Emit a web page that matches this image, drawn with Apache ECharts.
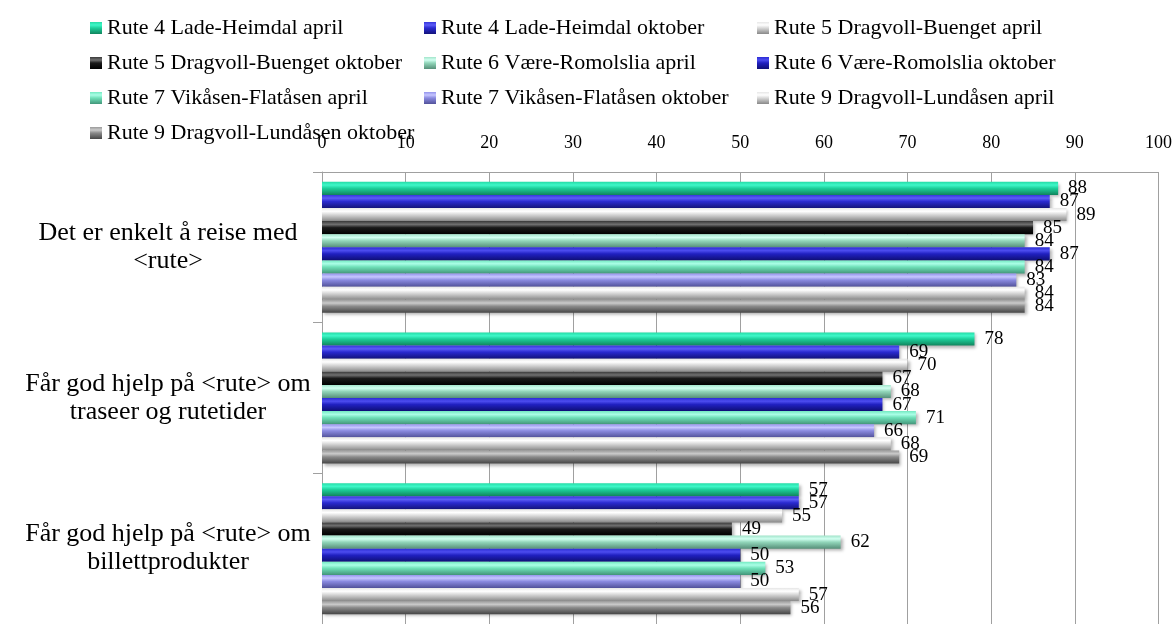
<!DOCTYPE html>
<html>
<head>
<meta charset="utf-8">
<script src="https://cdn.jsdelivr.net/npm/echarts@6/dist/echarts.min.js"></script>
<style>
  html, body { margin: 0; padding: 0; background: #ffffff; }
  #chart { width: 1175px; height: 624px; }
</style>
</head>
<body>
<div id="chart"></div>
<script>
// Survey statements (one group of bars per statement)
const categories = [
  'Det er enkelt å reise med\n<rute>',
  'Får god hjelp på <rute> om\ntraseer og rutetider',
  'Får god hjelp på <rute> om\nbillettprodukter'
];

const seriesNames = [
  'Rute 4 Lade-Heimdal april',
  'Rute 4 Lade-Heimdal oktober',
  'Rute 5 Dragvoll-Buenget april',
  'Rute 5 Dragvoll-Buenget oktober',
  'Rute 6 Være-Romolslia april',
  'Rute 6 Være-Romolslia oktober',
  'Rute 7 Vikåsen-Flatåsen april',
  'Rute 7 Vikåsen-Flatåsen oktober',
  'Rute 9 Dragvoll-Lundåsen april',
  'Rute 9 Dragvoll-Lundåsen oktober'
];

// Percent agreeing, per route and survey round
const rute4April   = [88, 78, 57];
const rute4Oktober = [87, 69, 57];
const rute5April   = [89, 70, 55];
const rute5Oktober = [85, 67, 49];
const rute6April   = [84, 68, 62];
const rute6Oktober = [87, 67, 50];
const rute7April   = [84, 71, 53];
const rute7Oktober = [83, 66, 50];
const rute9April   = [84, 68, 57];
const rute9Oktober = [84, 69, 56];

const seriesValues = [
  rute4April, rute4Oktober, rute5April, rute5Oktober, rute6April,
  rute6Oktober, rute7April, rute7Oktober, rute9April, rute9Oktober
];

const xTicks = [0, 10, 20, 30, 40, 50, 60, 70, 80, 90, 100];

// Cylinder-like shading for each bar: edge, highlight, body, shadow side
const shades = [
  ['#25dca6', '#3ff7c8', '#1ccf9a', '#11845d'],
  ['#3535dc', '#5c5cf6', '#2a2ad0', '#13137a'],
  ['#e6e6e6', '#ffffff', '#d8d8d8', '#888888'],
  ['#3a3a3a', '#707070', '#1a1a1a', '#000000'],
  ['#a2e4ca', '#d2fff1', '#92d6ba', '#568f79'],
  ['#2c2cd4', '#4c4cef', '#2020c0', '#0f0f75'],
  ['#74eac2', '#aafee6', '#6ee0b8', '#43967a'],
  ['#9494ec', '#c6c6ff', '#8a8ae0', '#52529a'],
  ['#e6e6e6', '#ffffff', '#d8d8d8', '#888888'],
  ['#9a9a9a', '#cacaca', '#8a8a8a', '#464646']
];

function shading(c) {
  return new echarts.graphic.LinearGradient(0, 0, 0, 1, [
    { offset: 0, color: c[0] },
    { offset: 0.25, color: c[1] },
    { offset: 0.5, color: c[2] },
    { offset: 1, color: c[3] }
  ]);
}

const FONT = "'Liberation Serif', 'Times New Roman', serif";

const series = seriesNames.map((name, i) => ({
  name: name,
  type: 'bar',
  data: seriesValues[i],
  barGap: '0%',
  barCategoryGap: '13%',
  itemStyle: {
    color: shading(shades[i]),
    shadowColor: 'rgba(0,0,0,0.3)',
    shadowBlur: 3,
    shadowOffsetX: 2,
    shadowOffsetY: 2
  },
  label: {
    show: true,
    position: 'right',
    distance: 10,
    color: '#000',
    fontFamily: FONT,
    fontSize: 19
  }
}));

// Legend laid out as three fixed columns
const legendColumns = [
  { left: 90,  names: [0, 3, 6, 9] },
  { left: 424, names: [1, 4, 7] },
  { left: 757, names: [2, 5, 8] }
];

const legends = legendColumns.map(col => ({
  orient: 'vertical',
  left: col.left,
  top: 16,
  itemWidth: 12,
  itemHeight: 12,
  itemGap: 11,
  icon: 'rect',
  padding: 0,
  data: col.names.map(k => seriesNames[k]),
  textStyle: { fontFamily: FONT, fontSize: 22, color: '#000', lineHeight: 24 }
}));

const chart = echarts.init(document.getElementById('chart'), null, { renderer: 'canvas' });

chart.setOption({
  animation: false,
  backgroundColor: '#ffffff',
  legend: legends,
  grid: { left: 322, top: 172, width: 838, height: 457, containLabel: false },
  xAxis: {
    type: 'value',
    position: 'top',
    min: xTicks[0],
    max: xTicks[xTicks.length - 1],
    interval: 10,
    axisLine: { show: true, lineStyle: { color: '#a0a0a0', width: 1 } },
    axisTick: { show: false },
    splitLine: { show: true, lineStyle: { color: '#a0a0a0', width: 1 } },
    axisLabel: { color: '#000', fontFamily: FONT, fontSize: 18, margin: 20 }
  },
  yAxis: {
    type: 'category',
    inverse: true,
    data: categories,
    axisLine: { show: true, lineStyle: { color: '#a0a0a0', width: 1 } },
    axisTick: { show: true, length: 9, lineStyle: { color: '#a0a0a0' } },
    axisLabel: {
      color: '#000',
      fontFamily: FONT,
      fontSize: 26,
      lineHeight: 28,
      align: 'center',
      margin: 154
    }
  },
  series: series
});
</script>
</body>
</html>
